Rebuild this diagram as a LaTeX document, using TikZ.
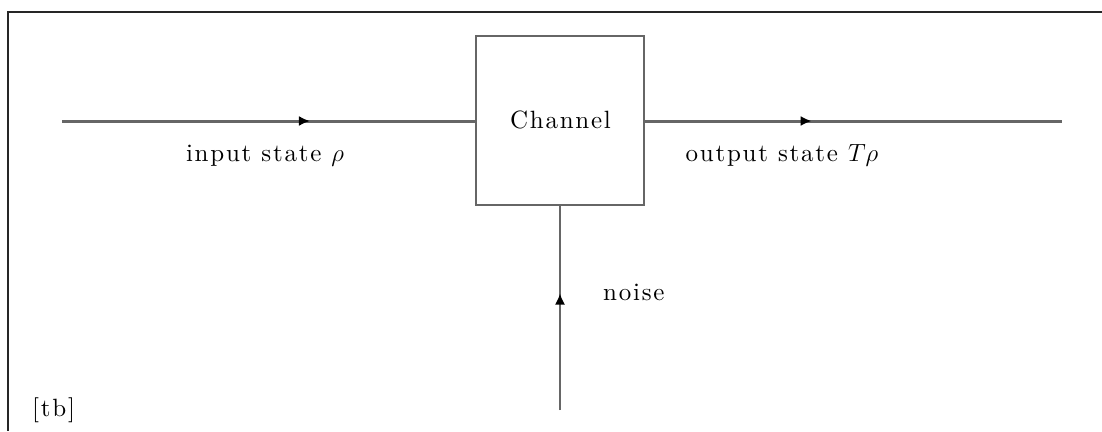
\documentclass[tikz,border=0pt]{standalone}
\usepackage{fontspec}
\newfontfamily\spacedfont{lmroman10-regular.otf}[LetterSpace=7]
\usetikzlibrary{arrows.meta,decorations.markings}
\begin{document}
\begin{tikzpicture}[x=1pt,y=-1pt,
  lbl/.style={inner sep=0pt,font=\spacedfont\fontsize{25}{30}\selectfont},
  thick line/.style={draw=black!60,line width=3pt},
  thin line/.style={draw=black!60,line width=1.5pt},
  midarrow/.style={postaction={decorate},decoration={markings,
     mark=at position #1 with {\arrow[black]{Latex[length=11pt,width=10pt]}}}}]
\useasboundingbox (0,0) rectangle (1102,431);
\fill[white] (0,0) rectangle (1102,431);
% frame
\coordinate (f1) at (1102,12);
\coordinate (f2) at (8,12);
\coordinate (f3) at (8,431);
\draw[black!85,line width=2pt] (f1) -- (f2) -- (f3);
% box
\node[draw=black!60,line width=1.5pt,minimum width=168pt,minimum height=169pt,inner sep=0pt] (box) at (560,120.5) {};
\node[lbl,anchor=base] (ch) at (560.5,128) {Channel};
\coordinate (in) at (62,121);
\coordinate (out) at (1062,121);
\coordinate (nz) at (560,410);
\draw[thick line,midarrow=0.6] (in) -- (in -| box.west);
\draw[thick line,midarrow=0.4] (out -| box.east) -- (out);
\draw[thin line,midarrow=0.57] (nz) -- (box.south);
\node[lbl,anchor=base] (il) at (265,161) {input state $\rho$};
\node[lbl,anchor=base] (ol) at (782,161) {output state $T\rho$};
\node[lbl,anchor=base west] (nl) at (603,300) {noise};
\node[lbl,anchor=base west] (tb) at (32,416) {[tb]};
\end{tikzpicture}
\end{document}
